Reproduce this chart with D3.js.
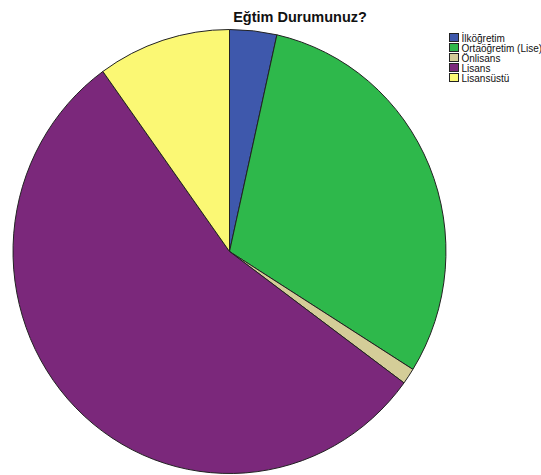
<!DOCTYPE html>
<html><head><meta charset="utf-8">
<script src="https://cdn.jsdelivr.net/npm/d3@7"></script>
<style>body{margin:0;background:#fff;overflow:hidden}svg{display:block}</style>
</head><body>
<svg id="c" width="541" height="475"></svg>
<script>
const title = "Eğtim Durumunuz?";
const categories = ["İlköğretim", "Ortaöğretim (Lise)", "Önlisans", "Lisans", "Lisansüstü"];
const values = [6, 52, 2, 94, 17];
const colors = ["#3e58ac", "#2eb84b", "#d4cd98", "#7b287b", "#fbf874"];

const svg = d3.select("#c");
const cx = 229.5, cy = 251.5, rx = 216.5, ry = 222;

const pie = d3.pie().sort(null).value(d => d)(values);
const arc = d3.arc().innerRadius(0).outerRadius(1);

const g = svg.append("g").attr("transform", `translate(${cx},${cy}) scale(${rx},${ry})`);
g.selectAll("path").data(pie).join("path")
  .attr("d", arc)
  .attr("fill", (d, i) => colors[i])
  .attr("stroke", "#222")
  .attr("stroke-width", 1)
  .attr("vector-effect", "non-scaling-stroke")
  .attr("stroke-linejoin", "round");

svg.append("text")
  .attr("x", 300).attr("y", 22)
  .attr("text-anchor", "middle")
  .attr("font-family", "Liberation Sans, Arial, sans-serif")
  .attr("font-weight", "bold")
  .attr("font-size", 14.5)
  .attr("fill", "#111")
  .text(title);

const leg = svg.append("g").attr("transform", "translate(449,33)");
const y = d3.scaleBand().domain(categories).range([0, 50]);
const items = leg.selectAll("g").data(categories).join("g")
  .attr("transform", d => `translate(0,${y(d)})`);
items.append("rect")
  .attr("x", 0.5).attr("y", 0.5).attr("width", 9).attr("height", 8)
  .attr("fill", (d, i) => colors[i]).attr("stroke", "#222").attr("stroke-width", 1);
items.append("text")
  .attr("x", 12.5).attr("y", 8.5)
  .attr("font-family", "Liberation Sans, Arial, sans-serif")
  .attr("font-size", 10)
  .attr("fill", "#111")
  .text(d => d);
</script>
</body></html>
